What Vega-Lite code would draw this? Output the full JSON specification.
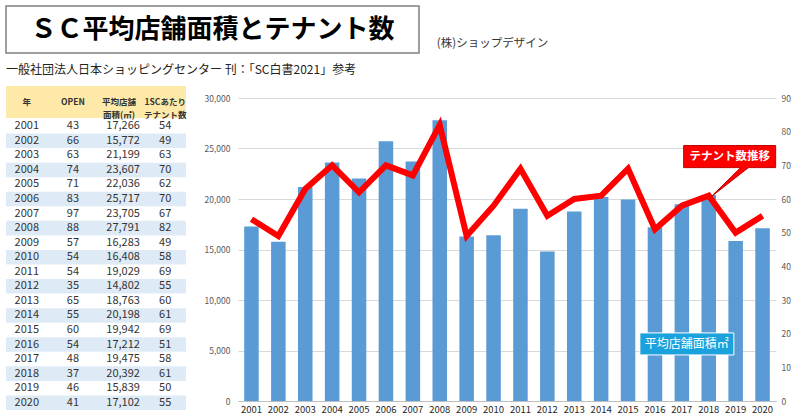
{
  "$schema": "https://vega.github.io/schema/vega-lite/v6.json",
  "background": "white",
  "padding": {"left": 5, "top": 5, "right": 0, "bottom": 0},
  "config": {"font": "Noto Sans CJK JP", "view": {"stroke": null}},
  "datasets": {
    "sc": [
      {"year": 2001, "open": 43, "area": 17266, "tenants": 54},
      {"year": 2002, "open": 66, "area": 15772, "tenants": 49},
      {"year": 2003, "open": 63, "area": 21199, "tenants": 63},
      {"year": 2004, "open": 74, "area": 23607, "tenants": 70},
      {"year": 2005, "open": 71, "area": 22036, "tenants": 62},
      {"year": 2006, "open": 83, "area": 25717, "tenants": 70},
      {"year": 2007, "open": 97, "area": 23705, "tenants": 67},
      {"year": 2008, "open": 88, "area": 27791, "tenants": 82},
      {"year": 2009, "open": 57, "area": 16283, "tenants": 49},
      {"year": 2010, "open": 54, "area": 16408, "tenants": 58},
      {"year": 2011, "open": 54, "area": 19029, "tenants": 69},
      {"year": 2012, "open": 35, "area": 14802, "tenants": 55},
      {"year": 2013, "open": 65, "area": 18763, "tenants": 60},
      {"year": 2014, "open": 55, "area": 20198, "tenants": 61},
      {"year": 2015, "open": 60, "area": 19942, "tenants": 69},
      {"year": 2016, "open": 54, "area": 17212, "tenants": 51},
      {"year": 2017, "open": 48, "area": 19475, "tenants": 58},
      {"year": 2018, "open": 37, "area": 20392, "tenants": 61},
      {"year": 2019, "open": 46, "area": 15839, "tenants": 50},
      {"year": 2020, "open": 41, "area": 17102, "tenants": 55}
    ]
  },
  "spacing": 10,
  "vconcat": [
    {
      "spacing": 15,
      "hconcat": [
        {
          "width": 413, "height": 47,
          "view": {"stroke": "#808080", "strokeWidth": 1.5},
          "data": {"values": [{"t": "ＳＣ平均店舗面積とテナント数"}]},
          "mark": {"type": "text", "fontSize": 26, "fontWeight": "bold", "color": "#000000"},
          "encoding": {"text": {"field": "t"}}
        },
        {
          "width": 115, "height": 47,
          "data": {"values": [{"t": "(株)ショップデザイン"}]},
          "mark": {"type": "text", "fontSize": 11.5, "color": "#333333", "dy": 14},
          "encoding": {"text": {"field": "t"}}
        }
      ]
    },
    {
      "title": {"text": "一般社団法人日本ショッピングセンター 刊：「SC白書2021」参考", "anchor": "start", "fontSize": 12, "fontWeight": "normal", "color": "#222222", "offset": 9},
      "spacing": 17,
      "hconcat": [
        {
          "spacing": 0,
          "vconcat": [
            {
              "width": 180, "height": 32,
              "view": {"fill": "#fee9a8"},
              "data": {"values": [
                {"col": "year", "t": "年"},
                {"col": "open", "t": "OPEN"},
                {"col": "area", "t": "平均店舗\n面積(㎡)"},
                {"col": "tenants", "t": "1SCあたり\nテナント数"}
              ]},
              "mark": {"type": "text", "fontSize": 8.5, "fontWeight": "bold", "color": "#333333", "lineBreak": "\n", "lineHeight": 12.5},
              "encoding": {
                "x": {"field": "col", "type": "nominal", "axis": null, "scale": {"type": "point", "domain": ["year", "open", "area", "tenants"], "padding": 0.45}},
                "text": {"field": "t"}
              }
            },
            {
              "width": 180, "height": 291,
              "data": {"name": "sc"},
              "encoding": {"y": {"field": "year", "type": "ordinal", "axis": null, "scale": {"paddingInner": 0, "paddingOuter": 0}}},
              "layer": [
                {"transform": [{"filter": "datum.year % 2 == 0"}], "mark": {"type": "rect", "color": "#deebf7"}},
                {
                  "transform": [{"fold": ["year", "open", "tenants"], "as": ["col", "val"]}],
                  "mark": {"type": "text", "fontSize": 11, "color": "#333333"},
                  "encoding": {
                    "x": {"field": "col", "type": "nominal", "axis": null, "scale": {"type": "point", "domain": ["year", "open", "area", "tenants"], "padding": 0.45}},
                    "text": {"field": "val", "type": "quantitative", "format": "d"}
                  }
                },
                {
                  "transform": [{"fold": ["area"], "as": ["col", "val"]}],
                  "mark": {"type": "text", "fontSize": 11, "color": "#333333", "dx": 4},
                  "encoding": {
                    "x": {"field": "col", "type": "nominal", "axis": null, "scale": {"type": "point", "domain": ["year", "open", "area", "tenants"], "padding": 0.45}},
                    "text": {"field": "val", "type": "quantitative", "format": ","}
                  }
                }
              ]
            }
          ]
        },
        {
          "spacing": 7,
          "vconcat": [
            {
              "width": 538, "height": 1,
              "data": {"values": []},
              "mark": {"type": "text"},
              "encoding": {}
            },
            {
              "width": 538, "height": 303,
              "data": {"name": "sc"},
              "encoding": {
                "x": {"field": "year", "type": "ordinal", "scale": {"paddingInner": 0.46, "paddingOuter": 0.23},
                      "axis": {"labelAngle": 0, "labelFontSize": 9.5, "labelColor": "#262626", "domain": true, "domainColor": "#bfbfbf", "ticks": false, "title": null, "labelPadding": 3}}
              },
              "layer": [
                {
                  "layer": [
                    {
                      "mark": {"type": "bar", "color": "#5b9bd5"},
                      "encoding": {"y": {"field": "area", "type": "quantitative", "scale": {"domain": [0, 30000]},
                        "axis": {"orient": "left", "tickCount": 6, "labelExpr": "format(datum.value, ',')", "grid": true, "gridColor": "#d9d9d9", "domain": false, "ticks": false, "labelColor": "#595959", "labelFontSize": 8.5, "labelPadding": 8, "title": null}}}
                    },
                    {
                      "data": {"values": [{"year": 2017, "area": 5650, "label": "平均店舗面積㎡"}]},
                      "mark": {"type": "point", "shape": "M-1,-0.234L1,-0.234L1,0.234L-1,0.234Z", "size": 8836, "filled": true, "fill": "#1ba1dc", "stroke": "#ffffff", "strokeWidth": 1, "opacity": 1, "xOffset": 5},
                      "encoding": {"y": {"field": "area", "type": "quantitative",
                        "axis": {"orient": "left", "tickCount": 6, "labelExpr": "format(datum.value, ',')", "grid": true, "gridColor": "#d9d9d9", "domain": false, "ticks": false, "labelColor": "#595959", "labelFontSize": 8.5, "labelPadding": 8, "title": null}}}
                    },
                    {
                      "data": {"values": [{"year": 2017, "area": 5650, "label": "平均店舗面積㎡"}]},
                      "mark": {"type": "text", "color": "#ffffff", "fontSize": 12, "xOffset": 5},
                      "encoding": {"y": {"field": "area", "type": "quantitative",
                        "axis": {"orient": "left", "tickCount": 6, "labelExpr": "format(datum.value, ',')", "grid": true, "gridColor": "#d9d9d9", "domain": false, "ticks": false, "labelColor": "#595959", "labelFontSize": 8.5, "labelPadding": 8, "title": null}},
                        "text": {"field": "label"}}
                    }
                  ]
                },
                {
                  "layer": [
                    {
                      "mark": {"type": "line", "color": "#ff0000", "strokeWidth": 6},
                      "encoding": {"y": {"field": "tenants", "type": "quantitative", "scale": {"domain": [0, 90]},
                        "axis": {"orient": "right", "tickCount": 9, "grid": false, "domain": false, "ticks": false, "labelColor": "#595959", "labelFontSize": 8.5, "labelPadding": 5, "title": null}}}
                    },
                    {
                      "data": {"values": [{"year": 2019, "tenants": 72.6, "label": "テナント数推移"}]},
                      "mark": {"type": "point", "shape": "M-1,-0.24L1,-0.24L1,0.24L0.41,0.24L-0.41,0.88L0.24,0.24L-1,0.24Z", "size": 8464, "filled": true, "fill": "#ff0000", "stroke": "#c00000", "strokeWidth": 1, "opacity": 1, "xOffset": -6},
                      "encoding": {"y": {"field": "tenants", "type": "quantitative",
                        "axis": {"orient": "right", "tickCount": 9, "grid": false, "domain": false, "ticks": false, "labelColor": "#595959", "labelFontSize": 8.5, "labelPadding": 5, "title": null}}}
                    },
                    {
                      "data": {"values": [{"year": 2019, "tenants": 72.6, "label": "テナント数推移"}]},
                      "mark": {"type": "text", "color": "#ffffff", "fontSize": 11.5, "fontWeight": "bold", "xOffset": -6},
                      "encoding": {"y": {"field": "tenants", "type": "quantitative",
                        "axis": {"orient": "right", "tickCount": 9, "grid": false, "domain": false, "ticks": false, "labelColor": "#595959", "labelFontSize": 8.5, "labelPadding": 5, "title": null}},
                        "text": {"field": "label"}}
                    }
                  ]
                }
              ],
              "resolve": {"scale": {"y": "independent"}}
            }
          ]
        }
      ]
    }
  ]
}
